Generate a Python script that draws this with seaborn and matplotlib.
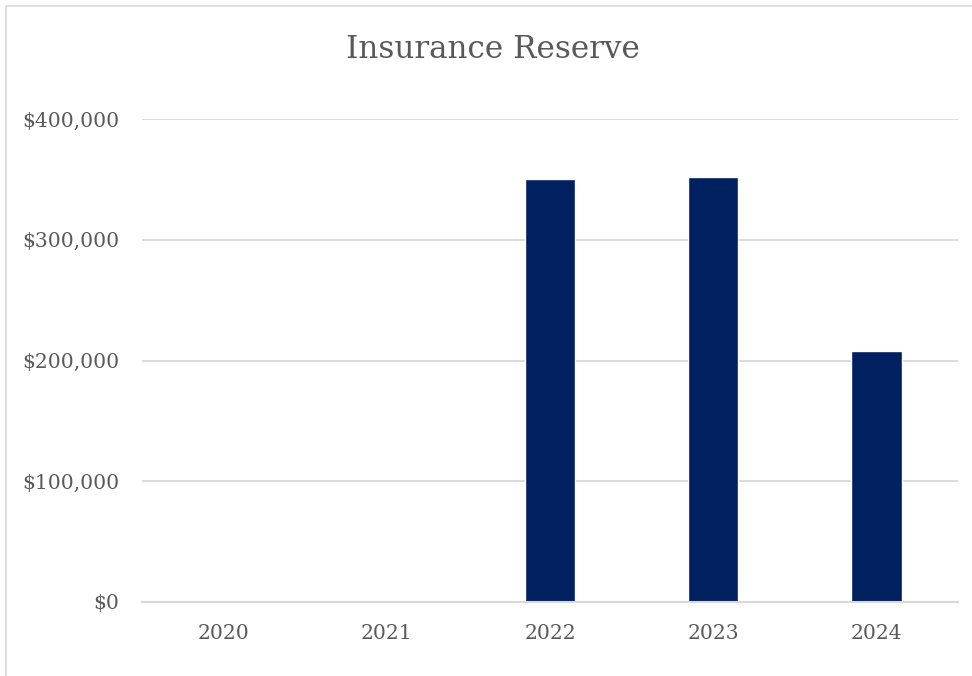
import matplotlib
matplotlib.use("Agg")
import matplotlib.pyplot as plt
import seaborn as sns
import pandas as pd
from matplotlib.ticker import FuncFormatter, FixedLocator
from matplotlib.patches import Rectangle

years = ["2020", "2021", "2022", "2023", "2024"]
reserve = [0, 0, 350000, 352000, 208000]
y_ticks = [0, 100000, 200000, 300000, 400000]
title = "Insurance Reserve"

bar_color = "#002060"
grid_color = "#d9d9d9"
text_color = "#595959"

sns.set_theme(style="white")
plt.rcParams["font.family"] = ["DejaVu Serif"]

df = pd.DataFrame({"year": years, "reserve": reserve})

fig = plt.figure(figsize=(9.72, 6.76), dpi=100)
ax = fig.add_axes([142 / 972, 1 - 602 / 676, (958 - 142) / 972, (602 - 119) / 676])

sns.barplot(data=df, x="year", y="reserve", color=bar_color, width=0.31,
            saturation=1, ax=ax, zorder=3)

ax.set_ylim(0, 400000)
ax.set_xlim(-0.5, len(years) - 0.5)
ax.yaxis.set_major_locator(FixedLocator(y_ticks))
ax.yaxis.set_major_formatter(FuncFormatter(lambda v, p: f"${v:,.0f}"))
ax.grid(axis="y", color=grid_color, linewidth=1.3, zorder=0)
ax.set_axisbelow(True)
for s in ["top", "right", "left"]:
    ax.spines[s].set_visible(False)
ax.spines["bottom"].set_color(grid_color)
ax.spines["bottom"].set_linewidth(1.5)
ax.spines["bottom"].set_zorder(4)

ax.set_xlabel("")
ax.set_ylabel("")
ax.tick_params(axis="both", length=0, labelsize=14.6, labelcolor=text_color)
ax.tick_params(axis="y", pad=16.5)
ax.tick_params(axis="x", pad=16)

fig.text(493 / 972, 1 - 49 / 676, title, ha="center", va="center",
         fontsize=22.3, color=text_color)

# chart area frame
fig.patches.append(Rectangle((5.5 / 972, -0.1), 1.2, 1 - 5.5 / 676 + 0.1,
                             transform=fig.transFigure, fill=False,
                             edgecolor=grid_color, linewidth=1.2))

fig.savefig("out.png", dpi=100)
